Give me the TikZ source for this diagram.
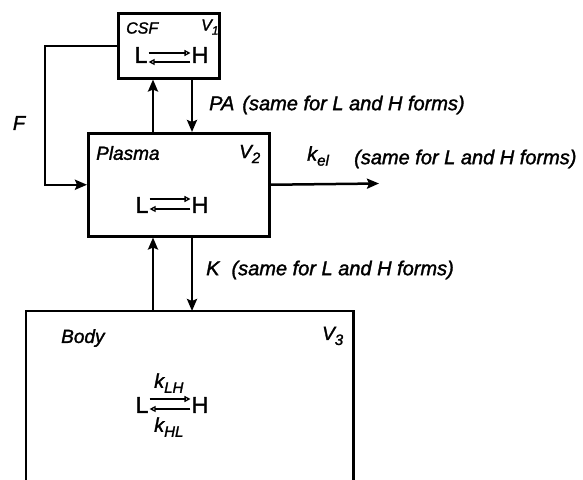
\documentclass[tikz,border=0pt]{standalone}
\usepackage{fontspec}
\setmainfont{Liberation Sans}[
  BoldFont=Liberation Sans, BoldItalicFont=Liberation Sans Italic,
  BoldFeatures={FakeBold=1.6}, BoldItalicFeatures={FakeBold=1.6}]
\usetikzlibrary{arrows.meta}
\newcommand\lsub[1]{\raisebox{-5pt}{\fontsize{15}{15}\selectfont #1}}
\newcommand\ssub[1]{\raisebox{-4pt}{\fontsize{12}{12}\selectfont #1}}
\tikzset{
  box/.style={draw, line width=2.5pt, inner sep=0pt, anchor=north west},
  flow/.style={line width=2.5pt, -{Stealth[length=12pt,width=10pt,inset=2pt]}},
  eqarr/.style={line width=2pt, -{Triangle[open,length=6pt,width=6pt,line width=1.3pt]}},
  lbl/.style={inner sep=0pt, font=\fontsize{19}{22}\selectfont\bfseries\itshape},
  flbl/.style={inner sep=0pt, anchor=west, font=\fontsize{20}{24}\selectfont\bfseries\itshape},
  sp/.style={inner sep=0pt, font=\fontsize{23}{25}\selectfont\bfseries},
}
\begin{document}
\begin{tikzpicture}[x=1pt,y=-1pt]
\useasboundingbox (0,0) rectangle (583,479);
% boxes
\node[box, minimum width=101pt, minimum height=65pt] (csf) at (117,12) {};
\node[box, minimum width=181pt, minimum height=103pt] (plasma) at (87,132) {};
\node[inner sep=0pt, anchor=north west, minimum width=327pt, minimum height=170pt] (body) at (26,311) {};
\draw[line width=2.5pt, line join=miter] (body.south west) -- (body.north west) -- (body.north east) -- (body.south east);
% labels in boxes
\node[lbl, anchor=west, font=\fontsize{16}{18}\selectfont\bfseries\itshape] (csfl) at (126,28) {CSF};
\node[lbl, anchor=west, font=\fontsize{16}{18}\selectfont\bfseries\itshape] (v1) at (201,27) {V\ssub{1}};
\node[lbl, anchor=west] (plasmal) at (96,153) {Plasma};
\node[lbl, anchor=west] (v2) at (239,154) {V\lsub{2}};
\node[lbl, anchor=west] (bodyl) at (61,338) {Body};
\node[lbl, anchor=west] (v3) at (322,336) {V\lsub{3}};
% equilibria
\node[sp] (cL) at (141,55) {L};
\node[sp] (cH) at (200,55) {H};
\draw[eqarr] ([xshift=1pt,yshift=2pt]cL.east) -- ([xshift=-1pt,yshift=2pt]cH.west);
\draw[eqarr] ([xshift=-1pt,yshift=-7pt]cH.west) -- ([xshift=1pt,yshift=-7pt]cL.east);
\node[sp] (pL) at (142,205) {L};
\node[sp] (pH) at (200,205) {H};
\draw[eqarr] ([xshift=1pt,yshift=6pt]pL.east) -- ([xshift=-1pt,yshift=6pt]pH.west);
\draw[eqarr] ([xshift=-1pt,yshift=-4pt]pH.west) -- ([xshift=1pt,yshift=-4pt]pL.east);
\node[sp] (bL) at (142,405) {L};
\node[sp] (bH) at (200,405) {H};
\draw[eqarr] ([xshift=1pt,yshift=6pt]bL.east) -- ([xshift=-1pt,yshift=6pt]bH.west);
\draw[eqarr] ([xshift=-1pt,yshift=-4pt]bH.west) -- ([xshift=1pt,yshift=-4pt]bL.east);
\node[flbl] (klh) at (154,383) {k\lsub{LH}};
\node[flbl] (khl) at (154,427) {k\lsub{HL}};
% connectors
\coordinate (xa) at (153,0);
\coordinate (xb) at (192,0);
\coordinate (fl) at (45,100);
\coordinate (kelend) at (379,183.5);
\draw[flow] (xa |- plasma.north) -- (xa |- csf.south);
\draw[flow] (xb |- csf.south) -- (xb |- plasma.north);
\draw[flow] (xa |- body.north) -- (xa |- plasma.south);
\draw[flow] (xb |- plasma.south) -- (xb |- body.north);
\draw[flow, line join=miter] (csf.west) -| (fl) |- (plasma.west);
\draw[flow] (plasma.east) -- (kelend);
% flow labels
\node[flbl, anchor=center] (fF) at (19,123) {F};
\node[flbl] (pa) at (209,105) {PA\hspace{8pt}(same for L and H forms)};
\node[flbl] (kel) at (307,156) {k\lsub{el}};
\node[flbl] (kels) at (354,159) {(same for L and H forms)};
\node[flbl] (kk) at (206,270) {K\hspace{12pt}(same for L and H forms)};
\end{tikzpicture}
\end{document}
